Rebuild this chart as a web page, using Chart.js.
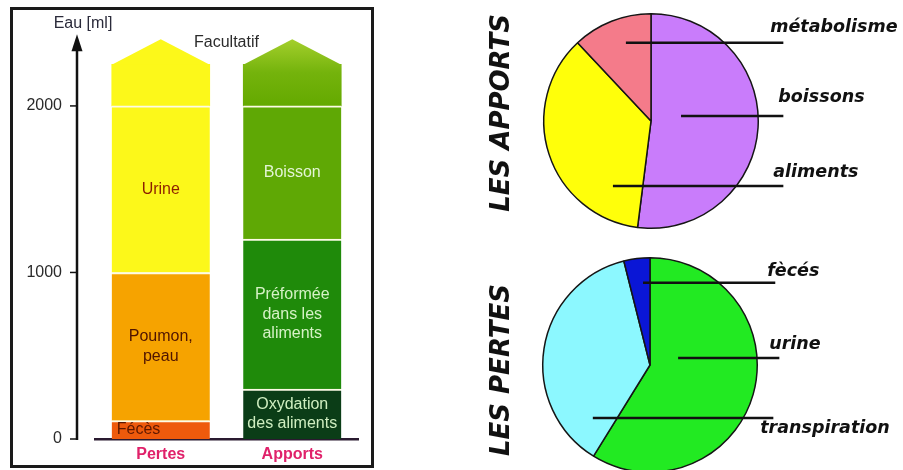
<!DOCTYPE html>
<html>
<head>
<meta charset="utf-8">
<script src="https://cdn.jsdelivr.net/npm/chart.js@4.4.1/dist/chart.umd.min.js"></script>
<style>
  html, body { margin: 0; padding: 0; background: #fff; width: 903px; height: 470px; overflow: hidden; position: relative; }
  #frame { position: absolute; left: 10px; top: 7px; width: 358px; height: 455px; border: 3px solid #1a1a1a; }
  canvas { position: absolute; }
  #bars { left: 0; top: 0; }
  #apports { left: 480px; top: 0; }
  #pertes { left: 480px; top: 240px; }
</style>
</head>
<body>
<div id="frame"></div>
<canvas id="bars" width="380" height="470"></canvas>
<canvas id="apports" width="423" height="240"></canvas>
<canvas id="pertes" width="423" height="260"></canvas>
<script>
// bar chart: water balance in ml
const groups = ['Pertes', 'Apports'];
const yTicks = [0, 1000, 2000];

// stacked segments, bottom to top, [Pertes, Apports]
const level1 = [110, 300];
const level2 = [890, 900];
const level3 = [1000, 800];
const facultatif = [250, 250];
const roofRise = [150, 150];

const level1Names = ['Fécès', 'Oxydation\ndes aliments'];
const level2Names = ['Poumon,\npeau', 'Préformée\ndans les\naliments'];
const level3Names = ['Urine', 'Boisson'];

// pies
const apportsLabels = ['boissons', 'aliments', 'métabolisme'];
const apportsValues = [1300, 900, 300];
const pertesLabels = ['urine', 'transpiration', 'fècés'];
const pertesValues = [1500, 950, 100];

const SANS = '"Liberation Sans", Arial, sans-serif';
const VERD = '"DejaVu Sans", Verdana, sans-serif';

const segBorder = { top: 2, bottom: 0, left: 0, right: 0 };

function segment(data, names, colors, textColors, alignLeft) {
  return {
    data: data,
    names: names,
    textColors: textColors,
    alignLeft: alignLeft || [false, false],
    backgroundColor: colors,
    borderColor: '#fdfbe6',
    borderWidth: segBorder,
    borderSkipped: false,
    barThickness: 98
  };
}

function stackTop(j) {
  return level1[j] + level2[j] + level3[j] + facultatif[j];
}

// labels written inside the bar segments
const segLabels = {
  id: 'segLabels',
  afterDatasetsDraw(chart) {
    const ctx = chart.ctx;
    ctx.save();
    ctx.font = '16px ' + SANS;
    ctx.textBaseline = 'middle';
    chart.data.datasets.forEach((ds, i) => {
      if (!ds.names) return;
      chart.getDatasetMeta(i).data.forEach((el, j) => {
        const p = el.getProps(['x', 'y', 'base', 'width'], true);
        const lines = ds.names[j].split('\n');
        const cy = (p.y + p.base) / 2;
        const left = ds.alignLeft[j];
        ctx.textAlign = left ? 'left' : 'center';
        ctx.fillStyle = ds.textColors[j];
        const x = left ? p.x - p.width / 2 + 5 : p.x;
        lines.forEach((t, k) => ctx.fillText(t, x, cy + (k - (lines.length - 1) / 2) * 19.5));
      });
    });
    ctx.restore();
  }
};

// pointed top of the "facultatif" part
const roofs = {
  id: 'roofs',
  afterDatasetsDraw(chart) {
    const ctx = chart.ctx;
    const y = chart.scales.y;
    const meta = chart.getDatasetMeta(3);
    ctx.save();
    meta.data.forEach((el, j) => {
      const p = el.getProps(['x', 'y', 'width'], true);
      const peak = y.getPixelForValue(stackTop(j) + roofRise[j]);
      ctx.fillStyle = el.options.backgroundColor;
      ctx.beginPath();
      ctx.moveTo(p.x - p.width / 2, p.y + 0.5);
      ctx.lineTo(p.x, peak);
      ctx.lineTo(p.x + p.width / 2, p.y + 0.5);
      ctx.closePath();
      ctx.fill();
    });
    // "Facultatif" between the two roofs
    const a = meta.data[0].getProps(['x'], true).x;
    const b = meta.data[1].getProps(['x'], true).x;
    ctx.fillStyle = '#2b2b2b';
    ctx.font = '16px ' + SANS;
    ctx.textAlign = 'center';
    ctx.textBaseline = 'middle';
    ctx.fillText('Facultatif', (a + b) / 2, y.getPixelForValue(2380));
    ctx.restore();
  }
};

// vertical axis with arrow, drawn left of the bars
const arrowAxis = {
  id: 'arrowAxis',
  afterDraw(chart) {
    const ctx = chart.ctx;
    const y = chart.scales.y;
    const ax = chart.chartArea.left - 18;
    const tip = y.getPixelForValue(2430);
    ctx.save();
    ctx.strokeStyle = '#111';
    ctx.fillStyle = '#111';
    ctx.lineWidth = 2.5;
    ctx.beginPath();
    ctx.moveTo(ax, y.getPixelForValue(0) + 1);
    ctx.lineTo(ax, tip + 12);
    ctx.stroke();
    ctx.beginPath();
    ctx.moveTo(ax, tip);
    ctx.lineTo(ax - 5.5, tip + 17);
    ctx.lineTo(ax + 5.5, tip + 17);
    ctx.closePath();
    ctx.fill();
    ctx.lineWidth = 1.5;
    yTicks.forEach(v => {
      const py = y.getPixelForValue(v);
      ctx.beginPath();
      ctx.moveTo(ax - 7, py);
      ctx.lineTo(ax, py);
      ctx.stroke();
    });
    ctx.font = '16px ' + SANS;
    ctx.fillStyle = '#2a2a3a';
    ctx.textAlign = 'center';
    ctx.textBaseline = 'middle';
    ctx.fillText('Eau [ml]', ax + 6, tip - 11);
    ctx.restore();
  }
};

new Chart(document.getElementById('bars'), {
  type: 'bar',
  data: {
    labels: groups,
    datasets: [
      segment(level1, level1Names, ['#ee5a0c', '#0b3d17'], ['#5e1800', '#cfeec0'], [true, false]),
      segment(level2, level2Names, ['#f6a300', '#1f8a0a'], ['#4f1400', '#d6f2c6']),
      segment(level3, level3Names, ['#fcf81a', '#5fa805'], ['#8c1f00', '#e4f5d6']),
      {
        data: facultatif,
        backgroundColor: ctx => {
          if (ctx.dataIndex === 0) return '#fcf81a';
          const chart = ctx.chart;
          const y = chart.scales.y;
          if (!y || !chart.chartArea) return '#6cae06';
          const j = ctx.dataIndex;
          const g = chart.ctx.createLinearGradient(0, y.getPixelForValue(stackTop(j) + roofRise[j]), 0, y.getPixelForValue(stackTop(j) - facultatif[j]));
          g.addColorStop(0, '#a4cf2c');
          g.addColorStop(0.5, '#74b30c');
          g.addColorStop(1, '#64a900');
          return g;
        },
        borderWidth: 0,
        barThickness: 98
      }
    ]
  },
  options: {
    responsive: false,
    animation: false,
    layout: { padding: { top: 6, right: 22, left: 0, bottom: 0 } },
    plugins: { legend: { display: false }, tooltip: { enabled: false } },
    scales: {
      x: {
        stacked: true,
        grid: { display: false, drawTicks: false },
        border: { display: true, color: '#2a1a30', width: 2.5 },
        ticks: { color: '#e0216a', font: { family: SANS, size: 16, weight: 'bold' }, padding: 6 },
        afterFit: s => { s.height = 31; }
      },
      y: {
        stacked: true,
        min: 0,
        max: 2600,
        afterBuildTicks: s => { s.ticks = yTicks.map(v => ({ value: v })); },
        grid: { display: false, drawTicks: false },
        border: { display: false },
        ticks: { color: '#2a2a2a', font: { family: SANS, size: 16 }, padding: 33, callback: v => String(v) },
        afterFit: s => { s.width = 95; s.paddingTop = 0; s.paddingBottom = 0; }
      }
    }
  },
  plugins: [roofs, segLabels, arrowAxis]
});

// leader lines, names and vertical title for the pies
const sliceNotes = {
  id: 'sliceNotes',
  afterDraw(chart, args, opts) {
    const ctx = chart.ctx;
    const arc = chart.getDatasetMeta(0).data[0];
    const p = arc.getProps(['x', 'y', 'outerRadius'], true);
    const r = p.outerRadius;
    ctx.save();
    ctx.strokeStyle = '#111';
    ctx.lineWidth = 2.5;
    ctx.fillStyle = '#111';
    ctx.font = 'italic bold 17.5px ' + VERD;
    ctx.textAlign = 'left';
    ctx.textBaseline = 'middle';
    opts.notes.forEach((n, i) => {
      const ly = p.y + n.line[1] * r;
      ctx.beginPath();
      ctx.moveTo(p.x + n.line[0] * r, ly);
      ctx.lineTo(p.x + n.line[2] * r, ly);
      ctx.stroke();
      ctx.fillText(chart.data.labels[i], p.x + n.text[0] * r, p.y + n.text[1] * r);
    });
    ctx.translate(p.x + opts.title[0] * r, p.y + opts.title[1] * r);
    ctx.rotate(-Math.PI / 2);
    ctx.textAlign = 'center';
    ctx.font = 'italic bold 26px ' + VERD;
    ctx.fillText(opts.title[2], 0, 0);
    ctx.restore();
  }
};

function pie(id, labels, values, colors, pad, notes, title) {
  new Chart(document.getElementById(id), {
    type: 'pie',
    data: {
      labels: labels,
      datasets: [{ data: values, backgroundColor: colors, borderColor: '#151515', borderWidth: 1.5 }]
    },
    options: {
      responsive: false,
      animation: false,
      layout: { padding: pad },
      plugins: {
        legend: { display: false },
        tooltip: { enabled: false },
        sliceNotes: { notes: notes, title: title }
      }
    },
    plugins: [sliceNotes]
  });
}

pie('apports', apportsLabels, apportsValues, ['#c97cfb', '#ffff0a', '#f47b8a'],
  { left: 63, right: 144, top: 13, bottom: 11 },
  [
    { line: [0.28, -0.047, 1.234], text: [1.187, -0.215] },
    { line: [-0.355, 0.607, 1.234], text: [1.14, 0.477] },
    { line: [-0.234, -0.729, 1.234], text: [1.112, -0.869] }
  ],
  [-1.39, -0.075, 'LES APPORTS']);

pie('pertes', pertesLabels, pertesValues, ['#22ea22', '#8cf8ff', '#0a16d6'],
  { left: 62, right: 145, top: 17, bottom: 27 },
  [
    { line: [0.262, -0.065, 1.206], text: [1.112, -0.187] },
    { line: [-0.533, 0.495, 1.15], text: [1.028, 0.589] },
    { line: [-0.065, -0.766, 1.168], text: [1.093, -0.869] }
  ],
  [-1.38, 0.047, 'LES PERTES']);
</script>
</body>
</html>
